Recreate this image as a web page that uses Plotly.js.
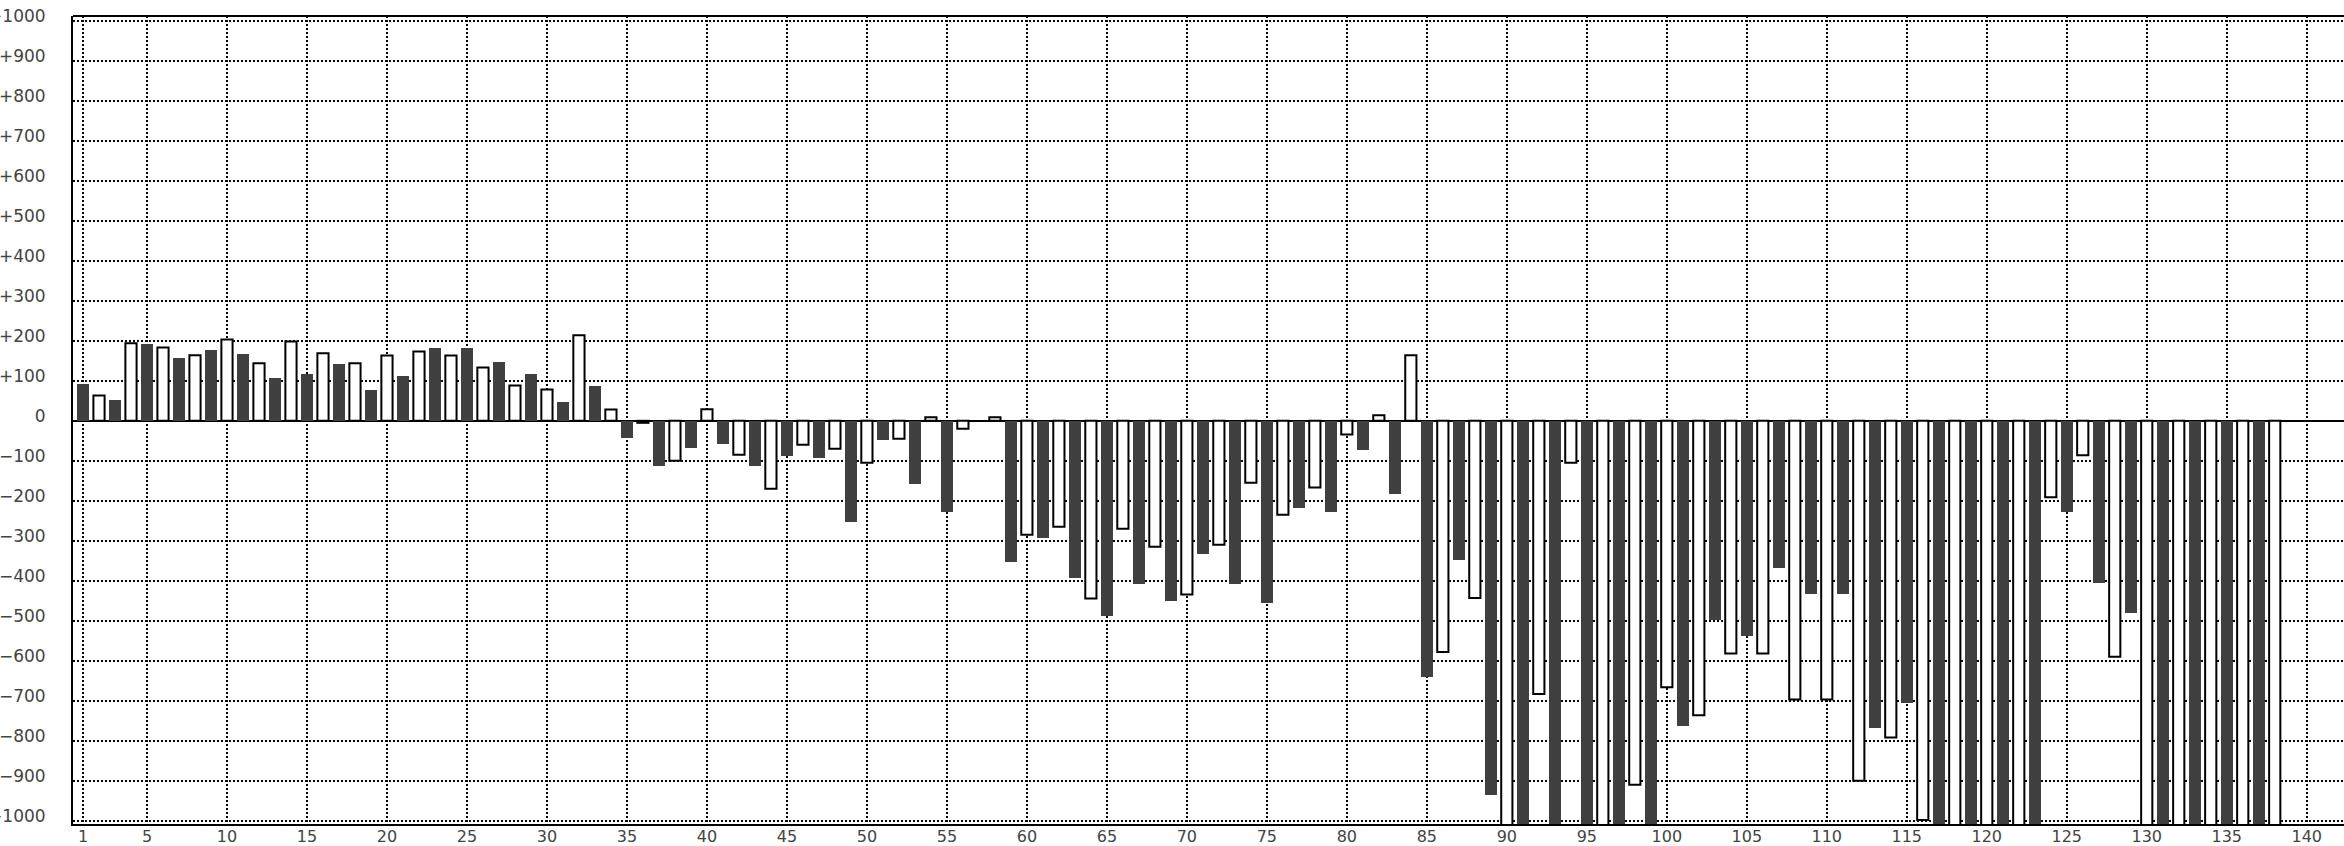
<!DOCTYPE html>
<html>
<head>
<meta charset="utf-8">
<script src="https://cdn.plot.ly/plotly-3.0.1.min.js"></script>
<style>
  html, body { margin: 0; padding: 0; background: #ffffff; }
  #chart { width: 2344px; height: 846px; }
</style>
</head>
<body>
<div id="chart"></div>
<script>
// Bars at odd positions 1,3,5,...,137 (dark filled)
const oddValues = [
  92, 52, 192, 157, 177, 167, 107, 117, 142, 77,
  112, 182, 182, 147, 117, 47, 87, -43, -113, -68,
  -58, -113, -88, -93, -253, -48, -158, -228, 0, -353,
  -293, -393, -489, -408, -451, -333, -408, -455, -218, -227,
  -72, -182, -641, -347, -935, -1200, -1200, -1200, -1200, -1200,
  -762, -497, -538, -368, -432, -432, -768, -705, -1200, -1200,
  -1200, -1200, -227, -406, -481, -1200, -1200, -1200, -1200
];
// Bars at even positions 2,4,6,...,138 (white, outlined)
const evenValues = [
  63, 194, 183, 164, 203, 144, 198, 169, 144, 163,
  173, 163, 133, 88, 78, 214, 28, -5, -100, 29,
  -85, -170, -60, -70, -105, -45, 9, -20, 9, -285,
  -265, -444, -270, -315, -434, -310, -155, -235, -167, -34,
  14, 164, -578, -443, -1200, -683, -105, -1200, -910, -666,
  -736, -582, -582, -697, -697, -900, -792, -998, -1200, -1200,
  -1200, -191, -86, -590, -1200, -1200, -1200, -1200, -1200
];
const oddPositions = oddValues.map((_, i) => 1 + 2 * i);
const evenPositions = evenValues.map((_, i) => 2 + 2 * i);

const xTickVals = [1, 5, 10, 15, 20, 25, 30, 35, 40, 45, 50, 55, 60, 65, 70, 75, 80, 85, 90, 95, 100,
  105, 110, 115, 120, 125, 130, 135, 140];
const xTickText = xTickVals.map(String);
const yTickVals = [1000, 900, 800, 700, 600, 500, 400, 300, 200, 100, 0,
  -100, -200, -300, -400, -500, -600, -700, -800, -900, -1000];
const yTickText = ["+1000", "+900", "+800", "+700", "+600", "+500", "+400", "+300", "+200", "+100", "0",
  "\u2212100", "\u2212200", "\u2212300", "\u2212400", "\u2212500", "\u2212600", "\u2212700", "\u2212800", "\u2212900", "\u22121000"];

const traces = [
  {
    type: 'bar', x: oddPositions, y: oddValues, width: 0.75,
    marker: { color: '#404040', line: { width: 0 } },
    hoverinfo: 'none', cliponaxis: true
  },
  {
    type: 'bar', x: evenPositions, y: evenValues, width: 0.7,
    marker: { color: '#ffffff', line: { color: '#000000', width: 2 } },
    hoverinfo: 'none', cliponaxis: true
  }
];

const layout = {
  width: 2344, height: 846,
  margin: { l: 73, r: 0, t: 16, b: 22, pad: 0 },
  paper_bgcolor: '#ffffff', plot_bgcolor: '#ffffff',
  showlegend: false, barmode: 'overlay', bargap: 0,
  font: { family: 'DejaVu Sans', size: 17, color: '#444444' },
  xaxis: {
    range: [0.375, 142.33], fixedrange: true,
    tickmode: 'array', tickvals: xTickVals, ticktext: xTickText,
    ticks: '', ticklabelstandoff: -3,
    showgrid: true, gridcolor: '#000000', gridwidth: 2, griddash: '2px,2px',
    showline: true, linecolor: '#000000', linewidth: 2,
    zeroline: false,
    tickfont: { family: 'DejaVu Sans', size: 16, color: '#444444' }
  },
  yaxis: {
    range: [-1008, 1012], fixedrange: true,
    tickmode: 'array', tickvals: yTickVals, ticktext: yTickText,
    ticks: '', ticklabelstandoff: 22, ticklabelshift: -5,
    showgrid: true, gridcolor: '#000000', gridwidth: 2, griddash: '2px,2px',
    showline: true, linecolor: '#000000', linewidth: 2,
    zeroline: true, zerolinecolor: '#000000', zerolinewidth: 2,
    tickfont: { family: 'DejaVu Sans', size: 17, color: '#444444' }
  },
  shapes: [
    { type: 'line', xref: 'paper', yref: 'paper', x0: 0, x1: 1, y0: 1, y1: 1,
      line: { color: '#000000', width: 2 } }
  ]
};

Plotly.newPlot('chart', traces, layout, { displayModeBar: false, staticPlot: true });
</script>
</body>
</html>
